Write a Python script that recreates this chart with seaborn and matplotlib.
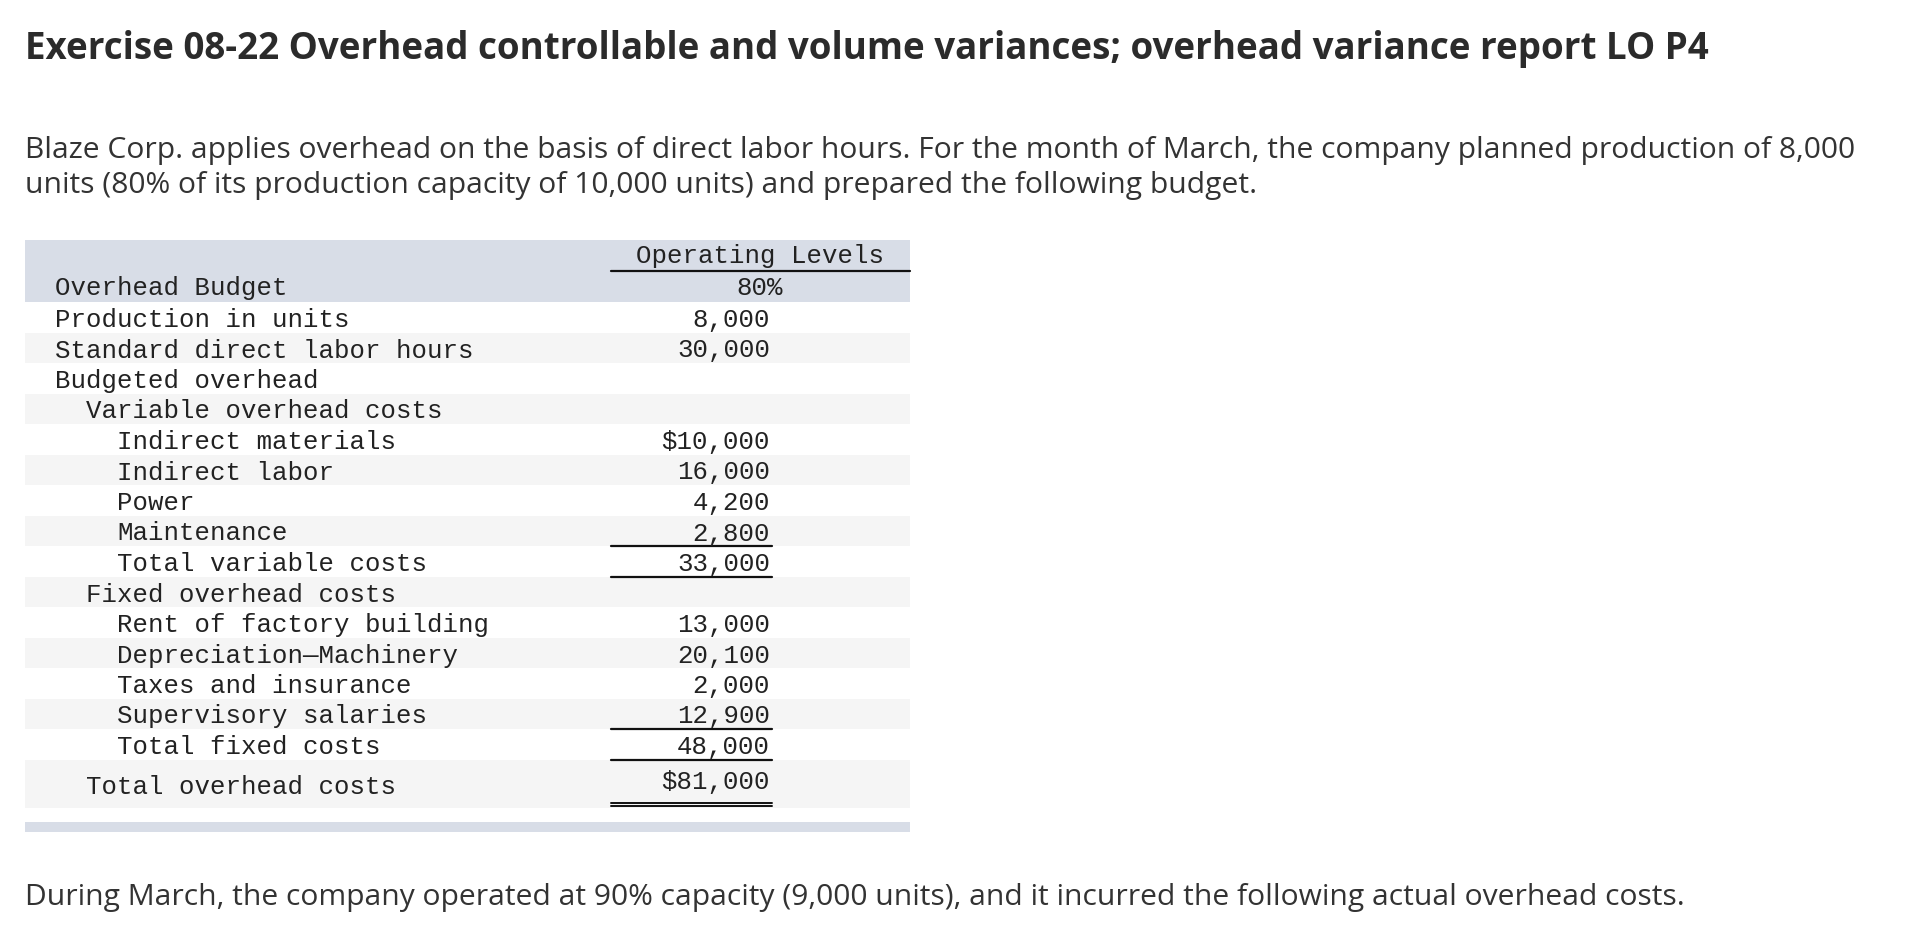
import matplotlib
matplotlib.use('Agg')
import matplotlib.pyplot as plt
import seaborn as sns

# Text content
titleText = 'Exercise 08-22 Overhead controllable and volume variances; overhead variance report LO P4'
introLines = [
    'Blaze Corp. applies overhead on the basis of direct labor hours. For the month of March, the company planned production of 8,000',
    'units (80% of its production capacity of 10,000 units) and prepared the following budget.',
]
closingText = 'During March, the company operated at 90% capacity (9,000 units), and it incurred the following actual overhead costs.'

# Budget table
headerTop = 'Operating Levels'
headerLabel = 'Overhead Budget'
headerLevel = '80%'
rowLabels = [
    'Production in units', 'Standard direct labor hours', 'Budgeted overhead',
    'Variable overhead costs', 'Indirect materials', 'Indirect labor', 'Power',
    'Maintenance', 'Total variable costs', 'Fixed overhead costs',
    'Rent of factory building', 'Depreciation\u2014Machinery', 'Taxes and insurance',
    'Supervisory salaries', 'Total fixed costs', 'Total overhead costs',
]
rowIndent = [0, 0, 0, 1, 2, 2, 2, 2, 2, 1, 2, 2, 2, 2, 2, 1]
rowValues = [8000, 30000, None, None, 10000, 16000, 4200, 2800, 33000, None,
             13000, 20100, 2000, 12900, 48000, 81000]
dollarRows = [4, 15]
underlineRows = [7, 8, 13, 14]
doubleUnderlineRows = [15]

sns.set_theme(style='white')
plt.rcParams['font.family'] = ['Open Sans', 'DejaVu Sans']

W, H = 1906, 936
fig = plt.figure(figsize=(W / 100, H / 100), dpi=100)
ax = fig.add_axes([0, 0, 1, 1])
ax.set_xlim(0, W)
ax.set_ylim(H, 0)
ax.axis('off')

textColor = '#2b2b2b'
bandColor = '#d8dde7'
stripeColor = '#f5f5f5'
mono = 'Liberation Mono'

ax.text(25, 59, titleText, fontsize=26.5, fontweight='bold', color=textColor, va='baseline')
for i, line in enumerate(introLines):
    ax.text(25, 158 + i * 35, line, fontsize=21.6, color='#333333', va='baseline')
ax.text(25, 905, closingText, fontsize=21.6, color='#333333', va='baseline')

# table geometry
tLeft, tRight = 25, 910
headTop, headBottom = 240, 302
rowH = 30.5
valRight = 770
lineLeft = 611
charW = 15.6
labelX = 55

ax.fill_between([tLeft, tRight], headTop, headBottom, color=bandColor, lw=0)
ax.text(760, 263, headerTop, fontsize=18.5, family=mono, color='#222222', ha='center', va='baseline')
ax.plot([lineLeft, tRight], [271, 271], color='#111111', lw=1.6)
ax.text(labelX, 295, headerLabel, fontsize=18.5, family=mono, color='#222222', va='baseline')
ax.text(760, 295, headerLevel, fontsize=18.5, family=mono, color='#222222', ha='center', va='baseline')

nRows = len(rowLabels)
for i, (label, indent, val) in enumerate(zip(rowLabels, rowIndent, rowValues)):
    top = headBottom + i * rowH
    bottom = top + (48 if i == nRows - 1 else rowH)
    if i % 2 == 1:
        ax.fill_between([tLeft, tRight], top, bottom, color=stripeColor, lw=0)
    base = top + 25
    labelBase = base
    if i == nRows - 1:
        labelBase, base = 794, 789
    ax.text(labelX + indent * 2 * charW, labelBase, label, fontsize=18.5, family=mono,
            color='#222222', va='baseline')
    if val is not None:
        s = f'{val:,}'
        if i in dollarRows:
            s = '$' + s
        ax.text(valRight, base, s, fontsize=18.5, family=mono, color='#222222',
                ha='right', va='baseline')
    if i in underlineRows:
        ax.plot([lineLeft, valRight + 2], [bottom, bottom], color='#111111', lw=1.6)
    if i in doubleUnderlineRows:
        ax.plot([lineLeft, valRight + 2], [bottom - 5, bottom - 5], color='#111111', lw=1.4)
        ax.plot([lineLeft, valRight + 2], [bottom - 1.5, bottom - 1.5], color='#111111', lw=1.4)

ax.fill_between([tLeft, tRight], 822, 832, color=bandColor, lw=0)

fig.savefig('out.png', dpi=100)
